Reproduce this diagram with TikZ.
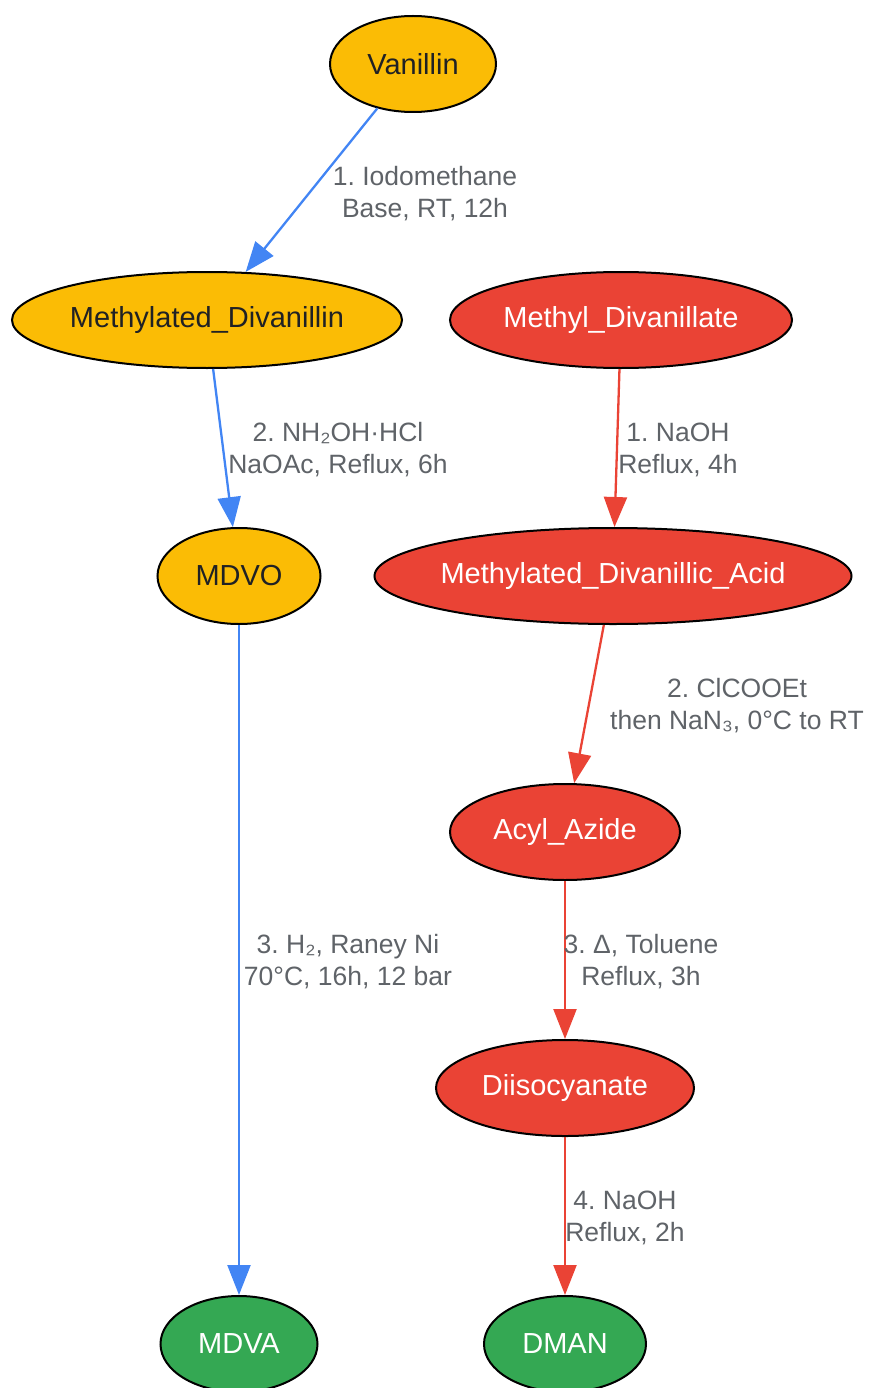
\documentclass[tikz,border=0pt]{standalone}
\usepackage{fontspec}
\setmainfont{Liberation Sans}
\usetikzlibrary{shapes.geometric,arrows.meta}
\definecolor{gyellow}{HTML}{FBBC05}
\definecolor{gred}{HTML}{EA4335}
\definecolor{ggreen}{HTML}{34A853}
\definecolor{gblue}{HTML}{4285F4}
\definecolor{lblgray}{HTML}{5F6368}
\definecolor{dtext}{HTML}{202124}
\tikzset{
  chem/.style={ellipse, draw=black, line width=2pt, inner sep=0pt, minimum height=96pt,
    font=\fontsize{29}{32}\selectfont},
  ynode/.style={chem, fill=gyellow, text=dtext},
  rnode/.style={chem, fill=gred, text=white},
  gnode/.style={chem, fill=ggreen, text=white},
  lbl/.style={text=lblgray, align=center, inner sep=0pt, font=\frenchspacing\fontsize{26.5}{32}\selectfont},
  barrow/.style={draw=gblue, line width=2.3pt, -{Triangle[length=30pt,width=23pt]}},
  rarrow/.style={draw=gred, line width=2.3pt, -{Triangle[length=30pt,width=23pt]}},
}
\begin{document}
\begin{tikzpicture}[x=1pt,y=-1pt]
\useasboundingbox (0,0) rectangle (868,1388);
\node[ynode, minimum width=166pt] (van) at (413,64) {Vanillin};
\node[ynode, minimum width=390pt] (mdv) at (207,320) {Methylated\_Divanillin};
\node[rnode, minimum width=342pt] (mdl) at (621,320) {Methyl\_Divanillate};
\node[ynode, minimum width=163pt] (mdvo) at (239,576) {MDVO};
\node[rnode, minimum width=477pt, inner xsep=-10pt] (mda) at (613,576) {Methylated\_Divanillic\_Acid};
\node[rnode, minimum width=230pt] (az) at (565,832) {Acyl\_Azide};
\node[rnode, minimum width=258pt] (dii) at (565,1088) {Diisocyanate};
\node[gnode, minimum width=157pt] (mdva) at (239,1344) {MDVA};
\node[gnode, minimum width=162pt] (dman) at (565,1344) {DMAN};

\draw[barrow] (van) -- (mdv);
\draw[barrow] (mdv) -- (mdvo);
\draw[barrow] (mdvo) -- (mdva);
\draw[rarrow] (mdl) -- (mda);
\draw[rarrow] (mda) -- (az);
\draw[rarrow] (az) -- (dii);
\draw[rarrow] (dii) -- (dman);

\node[lbl] (l1) at (425,194) {1. Iodomethane\\Base, RT, 12h};
\node[lbl] (l2) at (338,450) {2. NH₂OH·HCl\\NaOAc, Reflux, 6h};
\node[lbl] (l3) at (348,962) {3. H₂, Raney Ni\\70°C, 16h, 12 bar};
\node[lbl] (l4) at (678,450) {1. NaOH\\Reflux, 4h};
\node[lbl] (l5) at (737,706) {2. ClCOOEt\\then NaN₃, 0°C to RT};
\node[lbl] (l6) at (641,962) {3. Δ, Toluene\\Reflux, 3h};
\node[lbl] (l7) at (625,1218) {4. NaOH\\Reflux, 2h};
\end{tikzpicture}
\end{document}
